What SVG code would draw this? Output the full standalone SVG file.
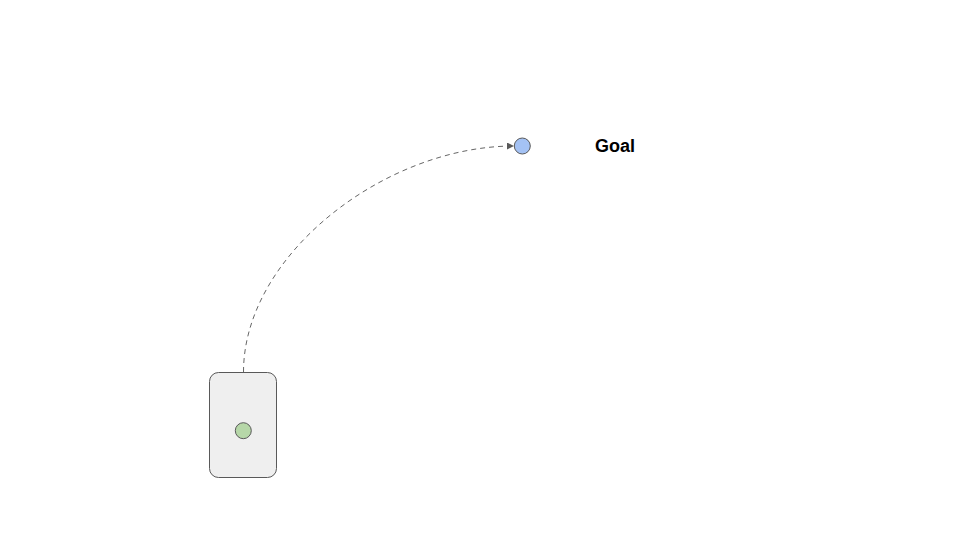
<svg xmlns="http://www.w3.org/2000/svg" width="960" height="540" viewBox="0 0 960 540">
<style>
.node{stroke:#595959;stroke-width:1}
.conn{fill:none;stroke:#666666;stroke-width:1;stroke-dasharray:5,4}
.label{font-family:"Liberation Sans",Arial,sans-serif;font-weight:bold;font-size:18px;fill:#000}
</style>
<defs>
<marker id="arrow" viewBox="0 0 10 10" refX="10" refY="5" markerWidth="7" markerHeight="7" markerUnits="userSpaceOnUse" orient="auto">
<path d="M0,0 L10,5 L0,10 z" fill="#595959"/>
</marker>
</defs>
<rect width="960" height="540" fill="#ffffff"/>
<g id="connectors">
<path class="conn" d="M243.5,372 C243.5,255 385,146 514,146" marker-end="url(#arrow)"/>
</g>
<g id="robot">
<rect class="node" x="209.5" y="372.5" width="67" height="105" rx="9" fill="#efefef"/>
<circle class="node" cx="243.3" cy="430.7" r="8" fill="#b6d7a8"/>
</g>
<g id="goal">
<circle class="node" cx="522.3" cy="146" r="8" fill="#a4c2f4"/>
</g>
<g id="goal-label">
<text class="label" x="595" y="152">Goal</text>
</g>
</svg>
